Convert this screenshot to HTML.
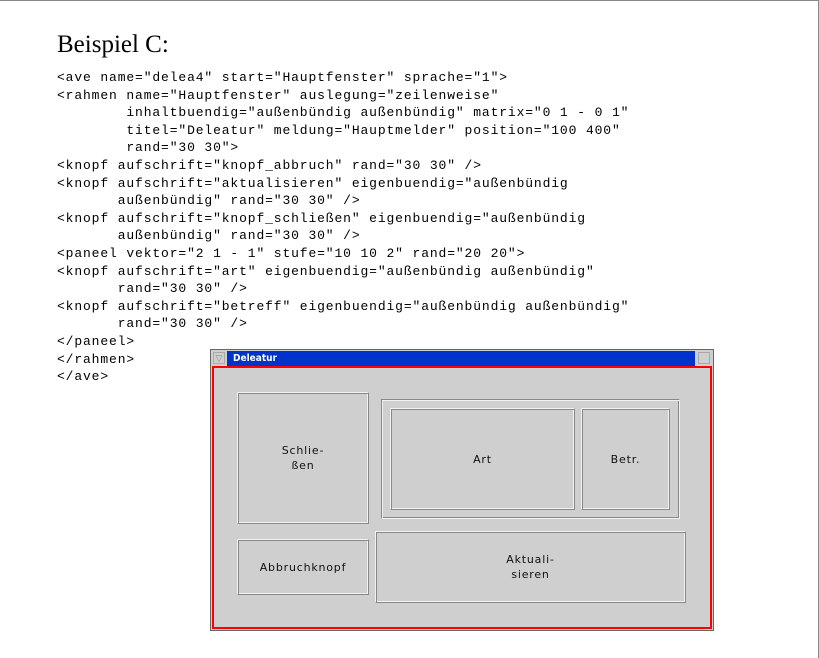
<!DOCTYPE html>
<html><head><meta charset="utf-8"><style>
body{margin:0;width:819px;height:657px;background:#fff;position:relative;overflow:hidden;border-top:1px solid #888;box-sizing:border-box}
.r{position:absolute;border-right:1px solid #888;width:0;top:0;height:657px;left:818px}
h1{position:absolute;left:57px;top:30px;margin:0;font:normal 25px "Liberation Serif",serif;color:#000}
pre{position:absolute;left:57px;top:68px;margin:0;font:13px/17.6px "Liberation Mono",monospace;letter-spacing:0.87px;color:#000}
.a{position:absolute;box-sizing:border-box}
.b{position:absolute;box-sizing:border-box;background:#cfcfcf;border:1px solid;border-color:#f2f2f2 #888 #888 #f2f2f2;box-shadow:inset 1px 1px 0 #888, inset -1px -1px 0 #f2f2f2;display:flex;align-items:center;justify-content:center;text-align:center;font:normal 11px/15px "DejaVu Sans",sans-serif;letter-spacing:0.8px;color:#111}
</style></head><body>
<div class="r"></div>
<h1>Beispiel C:</h1>
<pre>&lt;ave name="delea4" start="Hauptfenster" sprache="1"&gt;
&lt;rahmen name="Hauptfenster" auslegung="zeilenweise"
        inhaltbuendig="außenbündig außenbündig" matrix="0 1 - 0 1"
        titel="Deleatur" meldung="Hauptmelder" position="100 400"
        rand="30 30"&gt;
&lt;knopf aufschrift="knopf_abbruch" rand="30 30" /&gt;
&lt;knopf aufschrift="aktualisieren" eigenbuendig="außenbündig
       außenbündig" rand="30 30" /&gt;
&lt;knopf aufschrift="knopf_schließen" eigenbuendig="außenbündig
       außenbündig" rand="30 30" /&gt;
&lt;paneel vektor="2 1 - 1" stufe="10 10 2" rand="20 20"&gt;
&lt;knopf aufschrift="art" eigenbuendig="außenbündig außenbündig"
       rand="30 30" /&gt;
&lt;knopf aufschrift="betreff" eigenbuendig="außenbündig außenbündig"
       rand="30 30" /&gt;
&lt;/paneel&gt;
&lt;/rahmen&gt;
&lt;/ave&gt;</pre>
<div class="a" style="left:210px;top:348px;width:504px;height:282px;background:#cfcfcf;border:1px solid #666"></div>
<div class="a" style="left:213px;top:351px;width:12px;height:12px;border:1px solid #aaa;font:9px sans-serif;color:#888;text-align:center;line-height:10px">▽</div>
<div class="a" style="left:227px;top:350px;width:468px;height:15px;background:#0033cc;color:#fff;font:bold 10px/15px 'DejaVu Sans Condensed','DejaVu Sans',sans-serif;padding-left:6px">Deleatur</div>
<div class="a" style="left:698px;top:351px;width:12px;height:12px;border:1px solid #aaa"></div>
<div class="a" style="left:212px;top:365px;width:500px;height:263px;border:2px solid #f00"></div>
<div class="b" style="left:237px;top:391px;width:132px;height:132px">Schlie-<br>ßen</div>
<div class="a" style="left:381px;top:398px;width:299px;height:120px;border:1px solid;border-color:#888 #f2f2f2 #f2f2f2 #888;box-shadow:inset 1px 1px 0 #f2f2f2,inset -1px -1px 0 #888"></div>
<div class="b" style="left:390px;top:407px;width:185px;height:102px">Art</div>
<div class="b" style="left:581px;top:407px;width:89px;height:102px">Betr.</div>
<div class="b" style="left:237px;top:538px;width:132px;height:56px">Abbruchknopf</div>
<div class="b" style="left:375px;top:530px;width:311px;height:72px">Aktuali-<br>sieren</div>
</body></html>
